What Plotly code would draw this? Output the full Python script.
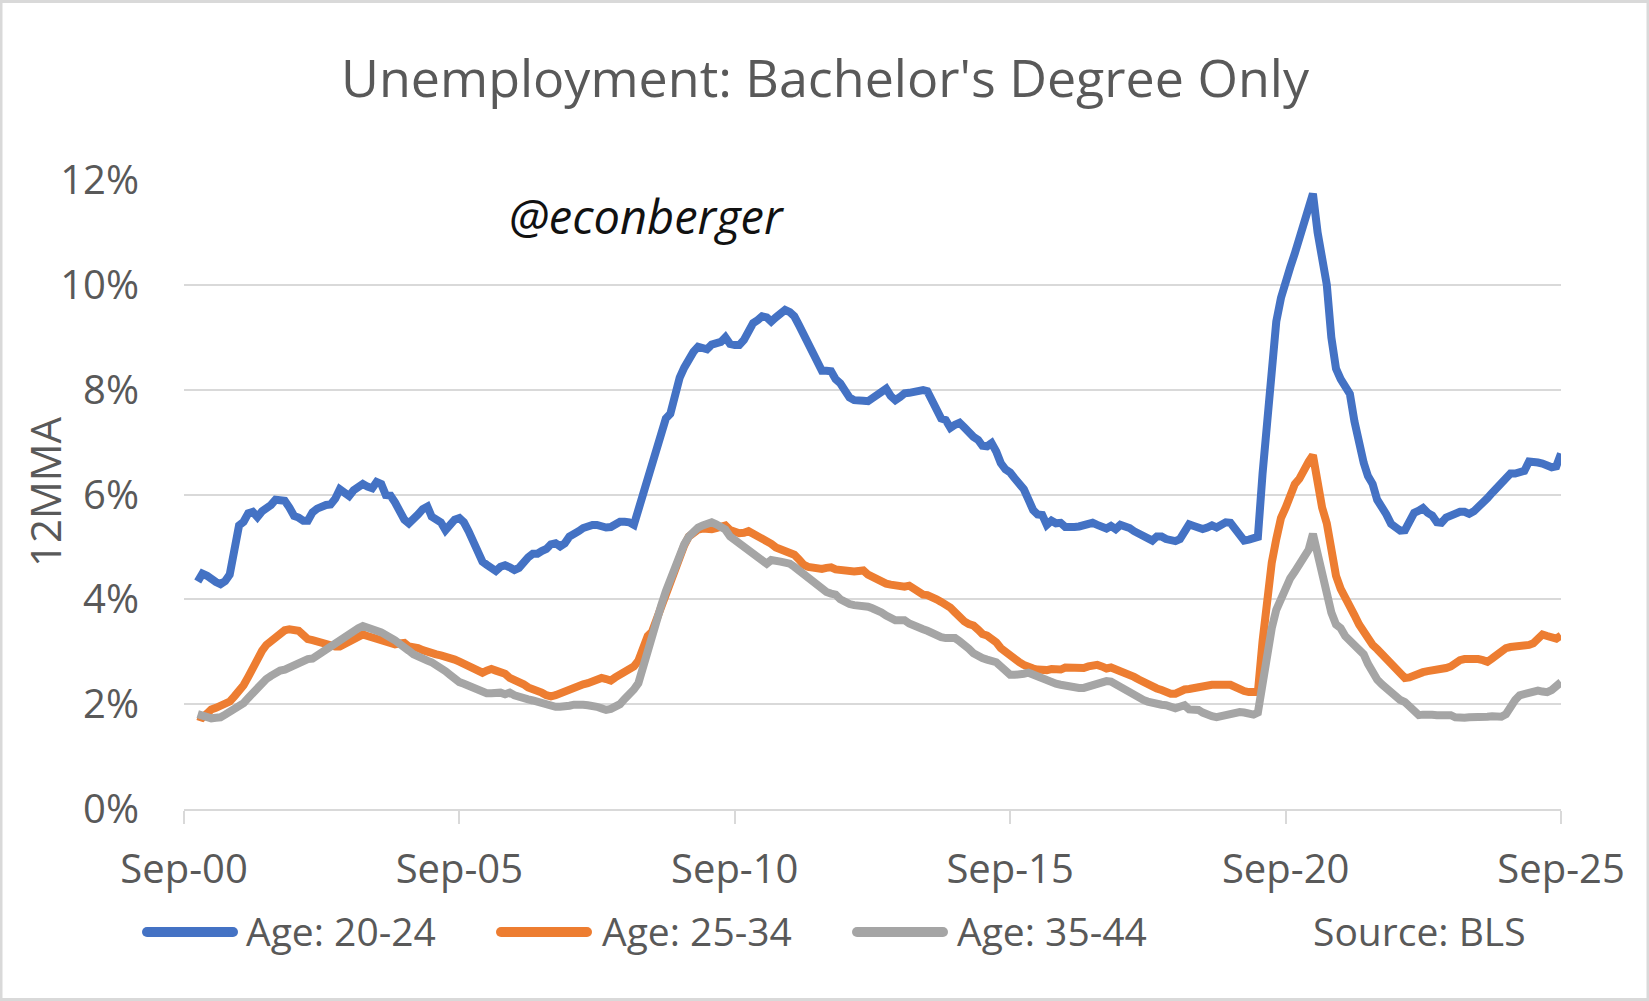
import pandas as pd
import plotly.graph_objects as go

# ---------------- data (12-month moving average, %) ----------------
START_MONTH = "2000-12-01"   # first monthly observation (Dec-00), last is Sep-25

age_20_24 = [
    4.34,
    4.49, 4.45, 4.38, 4.33, 4.29, 4.35, 4.47, 4.90, 5.41, 5.48, 5.64, 5.67,
    5.57, 5.68, 5.73, 5.80, 5.90, 5.87, 5.88, 5.75, 5.59, 5.56, 5.50, 5.50,
    5.66, 5.73, 5.77, 5.80, 5.81, 5.92, 6.10, 6.05, 5.97, 6.08, 6.16, 6.20,
    6.15, 6.12, 6.24, 6.20, 5.99, 5.98, 5.85, 5.65, 5.52, 5.45, 5.52, 5.62,
    5.72, 5.77, 5.58, 5.50, 5.47, 5.32, 5.40, 5.52, 5.55, 5.47, 5.30, 5.10,
    4.87, 4.72, 4.66, 4.60, 4.54, 4.62, 4.65, 4.61, 4.56, 4.60, 4.72, 4.80,
    4.87, 4.87, 4.92, 4.96, 5.05, 5.07, 5.01, 5.07, 5.20, 5.27, 5.30, 5.36,
    5.40, 5.42, 5.42, 5.38, 5.37, 5.38, 5.45, 5.48, 5.48, 5.47, 5.42, 5.70,
    5.95, 6.30, 6.60, 6.82, 7.05, 7.45, 7.54, 7.95, 8.23, 8.42, 8.60, 8.72,
    8.82, 8.80, 8.77, 8.86, 8.90, 8.91, 9.00, 8.87, 8.85, 8.85, 8.95, 9.12,
    9.27, 9.33, 9.40, 9.38, 9.30, 9.38, 9.45, 9.52, 9.48, 9.40, 9.23, 9.05,
    8.85, 8.70, 8.50, 8.36, 8.36, 8.35, 8.20, 8.12, 7.98, 7.85, 7.80, 7.78,
    7.79, 7.78, 7.84, 7.93, 7.97, 8.02, 7.88, 7.80, 7.86, 7.93, 7.94, 7.95,
    7.99, 7.99, 7.97, 7.78, 7.55, 7.45, 7.42, 7.27, 7.33, 7.37, 7.28, 7.18,
    7.10, 7.04, 6.93, 6.92, 6.98, 6.82, 6.60, 6.48, 6.42, 6.31, 6.18, 6.10,
    5.90, 5.70, 5.62, 5.61, 5.42, 5.50, 5.45, 5.46, 5.38, 5.37, 5.38, 5.39,
    5.41, 5.44, 5.46, 5.42, 5.40, 5.35, 5.40, 5.34, 5.42, 5.40, 5.36, 5.30,
    5.26, 5.22, 5.15, 5.12, 5.20, 5.20, 5.15, 5.12, 5.11, 5.15, 5.30, 5.43,
    5.40, 5.37, 5.34, 5.37, 5.41, 5.37, 5.44, 5.47, 5.46, 5.33, 5.20, 5.12,
    5.14, 5.18, 5.19, 6.40, 7.30, 8.55, 9.30, 9.75, 10.10, 10.33, 10.60, 10.90,
    11.20, 11.50, 11.74, 11.00, 10.50, 10.00, 9.00, 8.40, 8.20, 8.06, 7.92, 7.40,
    6.90, 6.60, 6.35, 6.20, 5.90, 5.78, 5.62, 5.44, 5.35, 5.31, 5.32, 5.45,
    5.65, 5.69, 5.74, 5.65, 5.60, 5.47, 5.46, 5.56, 5.61, 5.63, 5.67, 5.67,
    5.63, 5.68, 5.75, 5.81, 5.93, 6.03, 6.12, 6.24, 6.29, 6.40, 6.40, 6.41,
    6.45, 6.63, 6.63, 6.61, 6.59, 6.55, 6.52, 6.54, 6.78,
]

age_25_34 = [
    1.77,
    1.74, 1.82, 1.90, 1.93, 1.96, 2.01, 2.05, 2.15, 2.25, 2.36, 2.52, 2.70,
    2.88, 3.02, 3.13, 3.20, 3.28, 3.36, 3.41, 3.43, 3.41, 3.40, 3.32, 3.24,
    3.22, 3.19, 3.18, 3.17, 3.13, 3.10, 3.10, 3.15, 3.20, 3.25, 3.29, 3.33,
    3.30, 3.27, 3.24, 3.21, 3.19, 3.17, 3.14, 3.16, 3.17, 3.10, 3.10, 3.07,
    3.03, 2.99, 2.96, 2.95, 2.93, 2.91, 2.89, 2.85, 2.81, 2.77, 2.72, 2.66,
    2.62, 2.60, 2.64, 2.67, 2.64, 2.61, 2.58, 2.50, 2.47, 2.45, 2.38, 2.32,
    2.29, 2.27, 2.22, 2.17, 2.15, 2.17, 2.21, 2.24, 2.27, 2.30, 2.35, 2.38,
    2.40, 2.43, 2.47, 2.50, 2.48, 2.45, 2.51, 2.56, 2.60, 2.64, 2.72, 2.83,
    3.05, 3.30, 3.38, 3.62, 3.83, 4.12, 4.35, 4.60, 4.85, 5.03, 5.20, 5.28,
    5.33, 5.35, 5.34, 5.34, 5.36, 5.39, 5.41, 5.32, 5.27, 5.26, 5.27, 5.30,
    5.25, 5.21, 5.18, 5.13, 5.06, 4.99, 4.95, 4.94, 4.90, 4.85, 4.76, 4.66,
    4.62, 4.60, 4.59, 4.58, 4.60, 4.61, 4.57, 4.55, 4.55, 4.54, 4.53, 4.54,
    4.55, 4.47, 4.42, 4.37, 4.33, 4.30, 4.28, 4.26, 4.23, 4.24, 4.26, 4.20,
    4.12, 4.09, 4.08, 4.05, 4.00, 3.95, 3.90, 3.84, 3.75, 3.65, 3.58, 3.53,
    3.50, 3.42, 3.34, 3.31, 3.26, 3.18, 3.07, 2.99, 2.93, 2.85, 2.80, 2.75,
    2.70, 2.68, 2.66, 2.64, 2.65, 2.67, 2.65, 2.66, 2.70, 2.69, 2.68, 2.67,
    2.69, 2.72, 2.73, 2.75, 2.72, 2.68, 2.70, 2.67, 2.62, 2.59, 2.55, 2.52,
    2.47, 2.42, 2.37, 2.32, 2.30, 2.27, 2.22, 2.20, 2.20, 2.25, 2.28, 2.29,
    2.31, 2.34, 2.35, 2.37, 2.37, 2.37, 2.38, 2.39, 2.37, 2.33, 2.28, 2.25,
    2.23, 2.23, 2.23, 3.20, 4.05, 4.70, 5.15, 5.55, 5.75, 6.00, 6.20, 6.30,
    6.50, 6.63, 6.75, 6.15, 5.75, 5.45, 4.90, 4.45, 4.20, 4.05, 3.92, 3.70,
    3.52, 3.36, 3.24, 3.13, 3.05, 2.95, 2.84, 2.74, 2.65, 2.57, 2.50, 2.51,
    2.55, 2.60, 2.61, 2.63, 2.64, 2.65, 2.67, 2.69, 2.72, 2.79, 2.84, 2.86,
    2.87, 2.87, 2.86, 2.84, 2.81, 2.87, 2.93, 3.02, 3.07, 3.09, 3.10, 3.10,
    3.10, 3.13, 3.16, 3.26, 3.33, 3.30, 3.27, 3.25, 3.31,
]

age_35_44 = [
    1.81,
    1.77, 1.75, 1.73, 1.74, 1.75, 1.80, 1.85, 1.89, 1.95, 2.02, 2.12, 2.22,
    2.33, 2.43, 2.48, 2.54, 2.60, 2.64, 2.66, 2.70, 2.77, 2.81, 2.85, 2.86,
    2.87, 2.93, 3.00, 3.06, 3.13, 3.19, 3.24, 3.30, 3.36, 3.40, 3.45, 3.49,
    3.47, 3.44, 3.40, 3.37, 3.33, 3.28, 3.22, 3.15, 3.06, 3.02, 2.95, 2.90,
    2.86, 2.83, 2.80, 2.75, 2.71, 2.63, 2.56, 2.48, 2.42, 2.39, 2.35, 2.32,
    2.28, 2.25, 2.21, 2.21, 2.23, 2.22, 2.19, 2.22, 2.17, 2.13, 2.11, 2.09,
    2.07, 2.04, 2.02, 2.00, 1.97, 1.95, 1.95, 1.95, 1.97, 1.99, 2.00, 1.99,
    1.98, 1.98, 1.95, 1.92, 1.89, 1.91, 1.94, 2.00, 2.10, 2.17, 2.28, 2.40,
    2.70, 3.05, 3.40, 3.62, 3.88, 4.15, 4.38, 4.60, 4.85, 5.05, 5.20, 5.30,
    5.37, 5.41, 5.45, 5.47, 5.43, 5.38, 5.33, 5.20, 5.13, 5.08, 5.02, 4.96,
    4.88, 4.78, 4.72, 4.68, 4.75, 4.75, 4.72, 4.70, 4.68, 4.62, 4.55, 4.47,
    4.42, 4.36, 4.28, 4.20, 4.14, 4.11, 4.09, 4.00, 3.94, 3.91, 3.89, 3.89,
    3.89, 3.86, 3.83, 3.80, 3.75, 3.69, 3.64, 3.60, 3.60, 3.60, 3.54, 3.49,
    3.46, 3.43, 3.40, 3.35, 3.31, 3.28, 3.26, 3.26, 3.26, 3.20, 3.15, 3.06,
    2.97, 2.91, 2.88, 2.85, 2.83, 2.80, 2.72, 2.62, 2.56, 2.56, 2.56, 2.58,
    2.60, 2.56, 2.52, 2.47, 2.43, 2.41, 2.39, 2.37, 2.35, 2.33, 2.31, 2.31,
    2.31, 2.34, 2.39, 2.41, 2.42, 2.44, 2.43, 2.38, 2.33, 2.27, 2.19, 2.14,
    2.10, 2.08, 2.05, 2.02, 2.00, 1.99, 1.98, 1.95, 1.92, 1.95, 1.98, 1.90,
    1.89, 1.89, 1.84, 1.79, 1.77, 1.75, 1.77, 1.79, 1.82, 1.85, 1.85, 1.84,
    1.82, 1.80, 1.84, 2.45, 2.95, 3.45, 3.80, 4.02, 4.22, 4.40, 4.53, 4.68,
    4.80, 4.95, 5.25, 4.85, 4.40, 4.10, 3.75, 3.52, 3.45, 3.30, 3.20, 3.12,
    3.05, 2.95, 2.77, 2.60, 2.47, 2.38, 2.31, 2.20, 2.12, 2.08, 2.04, 1.96,
    1.88, 1.79, 1.80, 1.81, 1.80, 1.79, 1.80, 1.81, 1.79, 1.75, 1.73, 1.74,
    1.75, 1.75, 1.73, 1.74, 1.76, 1.77, 1.75, 1.76, 1.81, 1.97, 2.08, 2.17,
    2.20, 2.23, 2.26, 2.26, 2.24, 2.23, 2.27, 2.36, 2.42,
]

series_names = ["Age: 20-24", "Age: 25-34", "Age: 35-44"]
x_tick_dates = ["2000-09-01", "2005-09-01", "2010-09-01", "2015-09-01", "2020-09-01", "2025-09-01"]
x_tick_labels = ["Sep-00", "Sep-05", "Sep-10", "Sep-15", "Sep-20", "Sep-25"]
y_tick_values = [0, 2, 4, 6, 8, 10, 12]
y_tick_labels = ["0%", "2%", "4%", "6%", "8%", "10%", "12%"]

# ---------------- figure ----------------
months = pd.date_range(START_MONTH, periods=len(age_20_24), freq="MS")
colors = ["#4472C4", "#ED7D31", "#A5A5A5"]
TXT = "#595959"
GRID = "#D9D9D9"
FONT = "Open Sans"

W, H = 1649, 1001
ML, MR, MT, MB = 184, 88, 180, 192
PW, PH = W - ML - MR, H - MT - MB


def px(x):
    return (x - ML) / PW


def py(y):
    return (H - MB - y) / PH


fig = go.Figure()
for name, vals, col in zip(series_names, [age_20_24, age_25_34, age_35_44], colors):
    fig.add_trace(go.Scatter(x=months, y=vals, mode="lines", name=name,
                             line=dict(color=col, width=8), showlegend=False,
                             hoverinfo="skip"))

fig.update_layout(
    width=W, height=H,
    margin=dict(l=ML, r=MR, t=MT, b=MB, pad=0),
    plot_bgcolor="white", paper_bgcolor="white",
    font=dict(family=FONT, color=TXT, size=39),
    showlegend=False,
)
fig.update_xaxes(
    type="date", range=["2000-09-01", "2025-09-01"],
    tickmode="array", tickvals=x_tick_dates, ticktext=x_tick_labels,
    ticks="outside", ticklen=13, tickwidth=2, tickcolor=GRID,
    showline=True, linecolor=GRID, linewidth=2,
    showgrid=False, zeroline=False,
    tickfont=dict(family=FONT, size=40, color=TXT),
    ticklabelstandoff=11,
)
fig.update_yaxes(
    range=[0, 12], tickmode="array", tickvals=y_tick_values, ticktext=y_tick_labels,
    showgrid=True, gridcolor=GRID, gridwidth=2, zeroline=False, showline=False,
    ticks="", tickfont=dict(family=FONT, size=40, color=TXT),
    ticklabelstandoff=44,
)

annotations = [
    dict(text="Unemployment: Bachelor's Degree Only", x=px(825), y=py(77),
         xref="paper", yref="paper", xanchor="center", yanchor="middle",
         showarrow=False, font=dict(family=FONT, size=52, color=TXT)),
    dict(text="12MMA", x=px(44), y=py(492), xref="paper", yref="paper",
         xanchor="center", yanchor="middle", textangle=-90, showarrow=False,
         font=dict(family=FONT, size=42, color=TXT)),
    dict(text="<i>@econberger</i>", x=px(646), y=py(216), xref="paper", yref="paper",
         xanchor="center", yanchor="middle", showarrow=False,
         font=dict(family=FONT, size=47, color="#111111")),
    dict(text="Source: BLS", x=px(1311), y=py(930), xref="paper", yref="paper",
         xanchor="left", yanchor="middle", showarrow=False,
         font=dict(family=FONT, size=39, color=TXT)),
]

shapes = []
legend_x = [(142, 238, 244), (496, 592, 600), (852, 948, 955)]
for (x0, x1, xt), name, col in zip(legend_x, series_names, colors):
    shapes.append(dict(type="line", xref="paper", yref="paper",
                       x0=px(x0 + 5), x1=px(x1 - 5), y0=py(932), y1=py(932),
                       line=dict(color=col, width=10)))
    shapes.append(dict(type="circle", xref="paper", yref="paper",
                       x0=px(x0), x1=px(x0 + 10), y0=py(937), y1=py(927),
                       fillcolor=col, line=dict(width=0)))
    shapes.append(dict(type="circle", xref="paper", yref="paper",
                       x0=px(x1 - 10), x1=px(x1), y0=py(937), y1=py(927),
                       fillcolor=col, line=dict(width=0)))
    annotations.append(dict(text=name, x=px(xt), y=py(930), xref="paper", yref="paper",
                            xanchor="left", yanchor="middle", showarrow=False,
                            font=dict(family=FONT, size=39, color=TXT)))

# outer chart border
shapes.append(dict(type="rect", xref="paper", yref="paper",
                   x0=px(1), x1=px(W - 1), y0=py(H - 1.5), y1=py(1.5),
                   line=dict(color=GRID, width=3), fillcolor="rgba(0,0,0,0)"))

fig.update_layout(annotations=annotations, shapes=shapes)

fig.write_html("out.html", config={"displayModeBar": False},
               post_script="document.body.style.margin='0';")
